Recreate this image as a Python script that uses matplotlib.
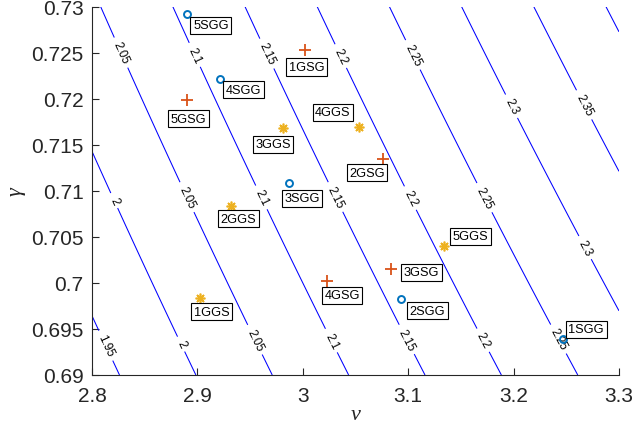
import numpy as np
import matplotlib
matplotlib.use("Agg")
import matplotlib.pyplot as plt

# ---- data ----
nu_range = [2.8, 3.3]
gamma_range = [0.69, 0.73]
levels = [1.95, 2.0, 2.05, 2.1, 2.15, 2.2, 2.25, 2.3, 2.35, 2.4]

sgg_names = ["1SGG", "2SGG", "3SGG", "4SGG", "5SGG"]
sgg_nu = [3.247, 3.0935, 2.987, 2.921, 2.890]
sgg_gamma = [0.6939, 0.6983, 0.7108, 0.7222, 0.7292]

gsg_names = ["1GSG", "2GSG", "3GSG", "4GSG", "5GSG"]
gsg_nu = [3.0025, 3.076, 3.0834, 3.023, 2.8898]
gsg_gamma = [0.7253, 0.7135, 0.7015, 0.7002, 0.7199]

ggs_names = ["1GGS", "2GGS", "3GGS", "4GGS", "5GGS"]
ggs_nu = [2.9028, 2.9322, 2.9812, 3.0532, 3.1338]
ggs_gamma = [0.6984, 0.7084, 0.7168, 0.7169, 0.7040]

xticks = [2.8, 2.9, 3.0, 3.1, 3.2, 3.3]
xticklabels = ["2.8", "2.9", "3", "3.1", "3.2", "3.3"]
yticks = [0.69, 0.695, 0.70, 0.705, 0.71, 0.715, 0.72, 0.725, 0.73]
yticklabels = ["0.69", "0.695", "0.7", "0.705", "0.71", "0.715", "0.72", "0.725", "0.73"]

# label offsets (pixels, right / down) for the boxed names
sgg_off = [(23, -10), (26, 12), (13, 15), (24, 11), (24, 11)]
gsg_off = [(1, 17), (-16, 14), (31, 3), (15, 14), (2, 19)]
ggs_off = [(11, 14), (7, 13), (-10, 16), (-26, -15), (27, -10)]

# contour label positions
clabel_pos = [
    (2.8272, 0.7250), (2.8961, 0.7247), (2.9657, 0.7249), (3.0353, 0.7246),
    (3.1032, 0.7247), (3.1982, 0.7192), (3.2662, 0.7193),
    (2.8202, 0.7089), (2.8898, 0.7093), (2.961, 0.7093), (3.0304, 0.7093),
    (3.1017, 0.7092), (3.1713, 0.7092), (3.2672, 0.7038),
    (2.8133, 0.6932), (2.8835, 0.6933), (2.954, 0.6938), (3.0264, 0.6937),
    (3.0975, 0.6938), (3.1697, 0.6937), (3.2409, 0.6938),
]

plt.rcParams['font.family'] = ['Liberation Sans', 'DejaVu Sans']

fig = plt.figure(figsize=(6.35, 4.27), dpi=100)
ax = fig.add_axes([92/635, 1-376/427, 527/635, 368.3/427])

nu = np.linspace(nu_range[0], nu_range[1], 201)
ga = np.linspace(gamma_range[0], gamma_range[1], 201)
NU, GA = np.meshgrid(nu, ga)
Z = NU * GA
cs = ax.contour(NU, GA, Z, levels=levels, colors=[(0, 0, 1)], linewidths=0.75)
ax.clabel(cs, levels=levels[:-1], manual=clabel_pos, inline=True, fontsize=8.5,
          colors='black', fmt=lambda v: f"{v:g}", inline_spacing=5)

ax.plot(sgg_nu, sgg_gamma, 'o', ls='none', color='#0072BD', mfc='none',
        ms=5, mew=1.4, zorder=5)
ax.plot(gsg_nu, gsg_gamma, '+', ls='none', color='#D95319',
        ms=8, mew=1.3, zorder=5)
ax.plot(ggs_nu, ggs_gamma, ls='none', marker=(8, 2, 0), color='#EDB120',
        ms=7, mew=1.2, zorder=5)

def boxes(names, xs, ys, offs):
    for n, x, y, o in zip(names, xs, ys, offs):
        ax.annotate(n, (x, y), xytext=(o[0], -o[1]), textcoords='offset pixels',
                    ha='center', va='center', fontsize=9.2, zorder=6,
                    bbox=dict(boxstyle='square,pad=0.2', fc='white', ec='black', lw=0.8))

boxes(sgg_names, sgg_nu, sgg_gamma, sgg_off)
boxes(gsg_names, gsg_nu, gsg_gamma, gsg_off)
boxes(ggs_names, ggs_nu, ggs_gamma, ggs_off)

ax.set_xlim(nu_range)
ax.set_ylim(gamma_range)
ax.set_xticks(xticks)
ax.set_xticklabels(xticklabels)
ax.set_yticks(yticks)
ax.set_yticklabels(yticklabels)
ax.tick_params(direction='in', length=5, width=0.8, labelsize=15, colors='#262626',
               labelcolor='#262626')
ax.tick_params(axis='x', pad=8)
ax.tick_params(axis='y', pad=6)
for s in ['top', 'right']:
    ax.spines[s].set_visible(False)
for s in ['left', 'bottom']:
    ax.spines[s].set_linewidth(0.8)
    ax.spines[s].set_color('#262626')

ax.set_xlabel('ν', fontfamily='Liberation Serif', style='italic', fontsize=16,
              labelpad=0, color='#262626')
ax.set_ylabel('γ', fontfamily='Liberation Serif', style='italic', fontsize=16,
              labelpad=4, color='#262626')

fig.savefig('out.png', dpi=100)
